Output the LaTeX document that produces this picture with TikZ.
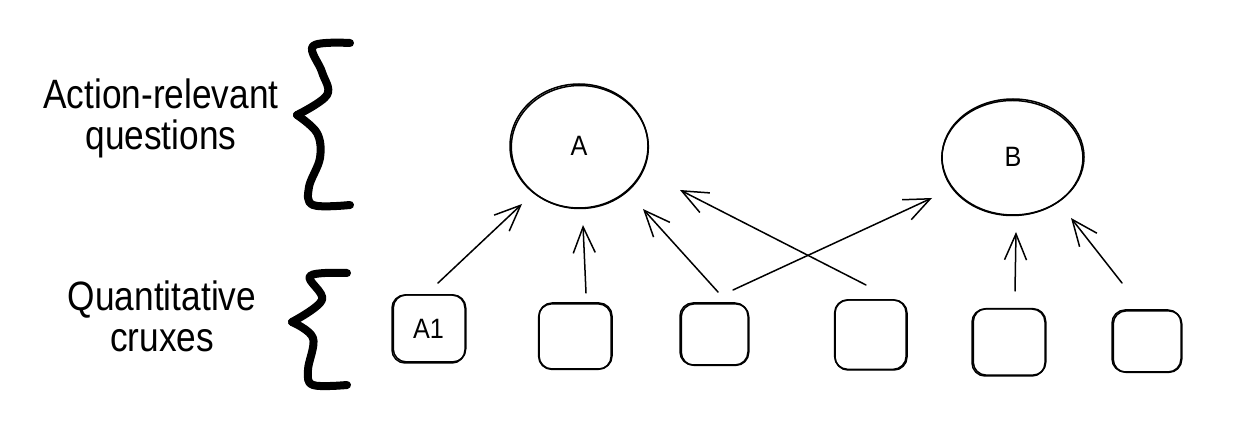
\documentclass[tikz,border=0pt]{standalone}
\usepackage{fontspec}
\usetikzlibrary{shapes.geometric,arrows.meta}
\newfontfamily\biglab[FakeStretch=0.86]{Liberation Sans}
\newfontfamily\smalllab[FakeStretch=0.9]{Liberation Sans}
\tikzset{
  sk/.style={line width=1.5pt, line join=round, line cap=round},
  qbox/.style={sk, draw, rounded corners=13pt, inner sep=0pt, font=\smalllab\fontsize{28}{30}\selectfont},
  qell/.style={sk, draw, ellipse, inner sep=0pt, font=\smalllab\fontsize{28}{30}\selectfont},
  arr/.style={sk, -{Straight Barb[length=26pt,width=22pt,line width=1.5pt]}},
  brace/.style={line width=8pt, line cap=round, line join=round},
  side/.style={align=center, font=\biglab\fontsize{41}{41}\selectfont}
}
\begin{document}
\begin{tikzpicture}[x=1pt,y=-1pt]
\useasboundingbox (0,0) rectangle (1245,435);
% side labels
\node[side] (t1) at (161,118) {Action-relevant\\questions};
\node[side] (t2) at (162,316) {Quantitative\\cruxes};
% braces
\draw[brace] plot[smooth, tension=0.6] coordinates {(350,43) (313,46) (322,72) (327,95) (297,115)};
\draw[brace] plot[smooth, tension=0.6] coordinates {(297,115) (317,133) (320,158) (309,187) (313,205) (350,205)};
\draw[brace] plot[smooth, tension=0.6] coordinates {(347,273) (310,276) (322,300) (292,322)};
\draw[brace] plot[smooth, tension=0.6] coordinates {(292,322) (313,338) (308,370) (313,385) (347,385)};
% questions
\node[qell, minimum width=138pt, minimum height=124pt] (A) at (579,146) {A};
\draw[sk] ([shift={(0.8,1)}]A.center) ellipse [x radius=68.5, y radius=61.5];
\node[qell, minimum width=142pt, minimum height=116pt] (B) at (1013,157) {B};
\draw[sk] ([shift={(-0.6,1)}]B.center) ellipse [x radius=70.5, y radius=57.5];
% cruxes
\node[qbox, minimum width=73pt, minimum height=68pt] (c1) at (428.5,329) {A1};
\node[qbox, minimum width=73pt, minimum height=66pt] (c2) at (575.5,336) {};
\node[qbox, minimum width=68pt, minimum height=62pt] (c3) at (714,334) {};
\node[qbox, minimum width=72pt, minimum height=70pt] (c4) at (871,335) {};
\node[qbox, minimum width=73pt, minimum height=67pt] (c5) at (1008.5,342.5) {};
\node[qbox, minimum width=69pt, minimum height=62pt] (c6) at (1146.5,341) {};
% second sketchy strokes
\foreach \n/\w/\h/\dx/\dy in {c1/72.5/67/1/-0.6, c2/72.5/65.5/-0.6/0.6, c3/67.5/61.5/1/0.6, c4/71.5/69.5/-0.6/-0.4, c5/72.5/66.5/1/-0.6, c6/68.5/61.5/1/0.6}{
  \draw[sk, rounded corners=13pt] ([shift={(\dx-\w/2,\dy-\h/2)}]\n.center) rectangle ++(\w,\h);
}
% arrow end points
\coordinate (s1) at (438,283); \coordinate (e1) at (522,204);
\coordinate (s2) at (586,293); \coordinate (e2) at (583,225);
\coordinate (s3) at (718,292); \coordinate (e3) at (643,209);
\coordinate (s4) at (733,290); \coordinate (e4) at (932,198);
\coordinate (s5) at (866,285); \coordinate (e5) at (680,190);
\coordinate (s6) at (1015,291); \coordinate (e6) at (1016,232);
\coordinate (s7) at (1122,283); \coordinate (e7) at (1071,218);
\draw[arr] (s1) -- (e1);
\draw[arr] (s2) -- (e2);
\draw[arr] (s3) -- (e3);
\draw[arr] (s4) -- (e4);
\draw[arr] (s5) -- (e5);
\draw[arr] (s6) -- (e6);
\draw[arr] (s7) -- (e7);
\end{tikzpicture}
\end{document}
